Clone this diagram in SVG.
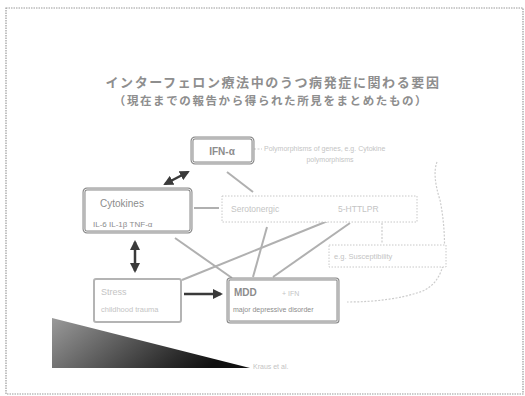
<svg xmlns="http://www.w3.org/2000/svg" width="525" height="396" viewBox="0 0 525 396">
  <style>
    .frame { fill: #ffffff; stroke: #9a9a9a; stroke-width: 1.2; stroke-dasharray: 1.5 1; }
    .ttl { font-family: "Noto Sans CJK JP", "Noto Sans", sans-serif; fill: #8e8e8e; text-anchor: middle; font-weight: bold; }
    .lbl { font-family: "Liberation Sans", Arial, sans-serif; fill: #8c8c8c; }
    .faint { font-family: "Liberation Sans", Arial, sans-serif; fill: #c4c4c4; }
    .boxStrong { fill: #ffffff; stroke: #8a8a8a; stroke-width: 3; }
    .boxStrongIn { fill: none; stroke: #ffffff; stroke-width: 0.8; }
    .boxLight { fill: #ffffff; stroke: #b4b4b4; stroke-width: 2; }
    .boxDot { fill: #ffffff; stroke: #c8c8c8; stroke-width: 1; stroke-dasharray: 1.5 1.5; }
    .link { stroke: #b0b0b0; stroke-width: 2; fill: none; }
    .linkFaint { stroke: #cccccc; stroke-width: 1.2; fill: none; stroke-dasharray: 2 1.5; }
    .arrow { stroke: #3a3a3a; stroke-width: 2.5; fill: none; }
  </style>
  <defs>
    <marker id="head" viewBox="0 0 10 10" refX="8" refY="5" markerWidth="4" markerHeight="4" orient="auto-start-reverse">
      <path d="M0,0 L10,5 L0,10 z" fill="#3a3a3a"/>
    </marker>
    <linearGradient id="wedge" x1="0" y1="0" x2="1" y2="0.3">
      <stop offset="0" stop-color="#9a9a9a"/>
      <stop offset="0.8" stop-color="#2a2a2a"/>
      <stop offset="1" stop-color="#111111"/>
    </linearGradient>
  </defs>

  <!-- slide frame -->
  <rect class="frame" x="6" y="8" width="517" height="386"/>

  <!-- title -->
  <text class="ttl" x="273" y="87" font-size="13" letter-spacing="1.6">インターフェロン療法中のうつ病発症に関わる要因</text>
  <text class="ttl" x="271" y="105" font-size="11.5" letter-spacing="1.6">（現在までの報告から得られた所見をまとめたもの）</text>

  <!-- decorative wedge -->
  <polygon points="52,318 52,368 250,368" fill="url(#wedge)"/>
  <text class="faint" x="253" y="369" font-size="7">Kraus et al.</text>

  <!-- connectors -->
  <g id="connectors">
    <line class="link" x1="194" y1="208" x2="219" y2="208"/>
    <line class="link" x1="309" y1="208" x2="334" y2="208"/>
    <line class="link" x1="227" y1="172" x2="253" y2="192"/>
    <line class="link" x1="175" y1="238" x2="232" y2="278"/>
    <line class="link" x1="182" y1="280" x2="340" y2="216"/>
    <line class="link" x1="267" y1="227" x2="253" y2="277"/>
    <line class="link" x1="350" y1="223" x2="273" y2="277"/>
    <line class="linkFaint" x1="382" y1="223" x2="382" y2="243"/>
    <line class="linkFaint" x1="254" y1="149" x2="262" y2="149"/>
    <path class="linkFaint" d="M437,162 Q432,175 440,200 Q446,230 444,260 Q440,285 420,292 Q390,302 347,302"/>
    <line class="arrow" x1="188" y1="172" x2="165" y2="184" marker-start="url(#head)" marker-end="url(#head)"/>
    <line class="arrow" x1="135" y1="242" x2="135" y2="271" marker-start="url(#head)" marker-end="url(#head)"/>
    <line class="arrow" x1="184" y1="294" x2="221" y2="294" marker-end="url(#head)"/>
  </g>

  <!-- IFN-alpha -->
  <g id="ifn">
    <rect class="boxStrong" x="192" y="138" width="61" height="25" rx="3"/>
    <rect class="boxStrongIn" x="192" y="138" width="61" height="25" rx="3"/>
    <text class="lbl" x="222" y="155" font-size="10" font-weight="bold" text-anchor="middle">IFN-α</text>
  </g>

  <!-- note beside IFN -->
  <g id="note">
    <text class="faint" x="264" y="151" font-size="7">Polymorphisms of genes, e.g. Cytokine</text>
    <text class="faint" x="330" y="162" font-size="7" text-anchor="middle">polymorphisms</text>
  </g>

  <!-- Cytokines -->
  <g id="cytokines">
    <rect class="boxStrong" x="84" y="189" width="107" height="43" rx="3"/>
    <rect class="boxStrongIn" x="84" y="189" width="107" height="43" rx="3"/>
    <text class="lbl" x="100" y="207" font-size="10">Cytokines</text>
    <text class="lbl" x="93" y="227" font-size="8">IL-6  IL-1β  TNF-α</text>
  </g>

  <!-- Serotonin -->
  <g id="serotonin">
    <rect class="boxDot" x="222" y="196" width="195" height="26"/>
    <text class="faint" x="231" y="212" font-size="8.5">Serotonergic</text>
    <text class="faint" x="338" y="212" font-size="8.5">5-HTTLPR</text>
  </g>

  <!-- e.g. box -->
  <g id="susceptibility">
    <rect class="boxDot" x="329" y="245" width="117" height="22"/>
    <text class="faint" x="334" y="259" font-size="7.5">e.g. Susceptibility</text>
  </g>

  <!-- Stress -->
  <g id="stress">
    <rect class="boxLight" x="94" y="279" width="87" height="43" rx="2"/>
    <text class="faint" x="101" y="295" font-size="9">Stress</text>
    <text class="faint" x="101" y="312" font-size="7.5">childhood trauma</text>
  </g>

  <!-- MDD -->
  <g id="mdd">
    <rect class="boxStrong" x="228" y="279" width="110" height="43" rx="2"/>
    <rect class="boxStrongIn" x="228" y="279" width="110" height="43" rx="2"/>
    <text class="lbl" x="234" y="296" font-size="10" font-weight="bold">MDD</text>
    <text class="faint" x="282" y="296" font-size="7">+ IFN</text>
    <text class="lbl" x="233" y="312" font-size="7">major depressive disorder</text>
  </g>
</svg>
